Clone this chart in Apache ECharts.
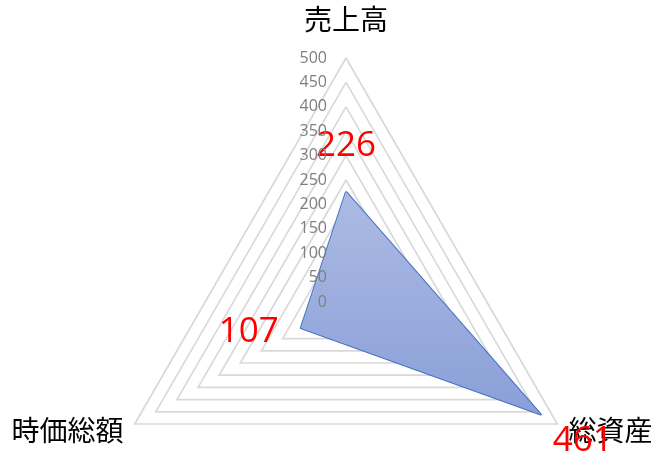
<!DOCTYPE html>
<html>
<head>
<meta charset="utf-8">
<script src="https://cdn.jsdelivr.net/npm/echarts@6/dist/echarts.min.js"></script>
<style>
  html, body { margin: 0; padding: 0; background: #fff; }
  #chart { width: 663px; height: 463px; }
</style>
</head>
<body>
<div id="chart"></div>
<script>
// indicators in ECharts order (top, then counter-clockwise)
const indicatorNames = ['売上高', '時価総額', '総資産'];
const values = [226, 107, 461];
const axisMax = 500;
const tickStep = 50;

// label offsets for each vertex value
const labelOffsets = [[0, -46], [-52, 4], [42, 27]];

const myChart = echarts.init(document.getElementById('chart'));

const labelItems = values.map((v, i) => ({
  value: values,
  symbol: 'circle',
  symbolSize: 1,
  itemStyle: { color: 'rgba(0,0,0,0)' },
  lineStyle: { opacity: 0 },
  areaStyle: { opacity: 0 },
  label: {
    show: true,
    position: 'inside',
    offset: labelOffsets[i],
    color: '#ff0000',
    fontSize: 35,
    fontFamily: 'Open Sans, Noto Sans, sans-serif',
    formatter: p => (p.dimensionIndex === i ? String(values[i]) : '')
  }
}));

const common = {
  center: [346, 302],
  radius: 244,
  startAngle: 90,
  shape: 'polygon',
  splitNumber: axisMax / tickStep,
  axisLine: { show: false },
  axisTick: { show: false },
  splitArea: { show: false }
};

const option = {
  animation: false,
  radar: [
    // grid rings + names, under the series
    Object.assign({}, common, {
      z: 0,
      nameGap: 13,
      indicator: indicatorNames.map(n => ({ name: n, min: 0, max: axisMax })),
      axisName: {
        color: '#000',
        fontSize: 28,
        fontFamily: 'Noto Sans CJK JP',
        formatter: (name) => (name === '売上高' ? '{t|' + name + '}' : name),
        rich: {
          t: { fontSize: 28, fontFamily: 'Noto Sans CJK JP', color: '#000', padding: [0, 0, 12, 0] }
        }
      },
      axisLabel: { show: false },
      splitLine: { lineStyle: { color: '#d9d9d9', width: 1.7 } }
    }),
    // tick labels only, drawn above the series
    Object.assign({}, common, {
      z: 5,
      axisName: { show: false },
      indicator: indicatorNames.map((n, i) => ({
        name: n, min: 0, max: axisMax,
        axisLabel: i === 0 ? {
          show: true,
          color: '#7f7f7f',
          fontSize: 16,
          margin: 19,
          fontFamily: 'Open Sans, Noto Sans, sans-serif',
          showMinLabel: true,
          showMaxLabel: true
        } : { show: false }
      })),
      axisLabel: { show: false },
      splitLine: { show: false }
    })
  ],
  series: [{
    type: 'radar',
    radarIndex: 0,
    z: 2,
    silent: true,
    data: [{
      value: values,
      symbol: 'none',
      lineStyle: { color: '#4472c4', width: 2 },
      areaStyle: {
        opacity: 1,
        color: new echarts.graphic.LinearGradient(0, 0, 0, 1, [
          { offset: 0, color: '#adbbe3' },
          { offset: 1, color: '#8a9fd8' }
        ])
      }
    }].concat(labelItems)
  }]
};

myChart.setOption(option);
</script>
</body>
</html>
